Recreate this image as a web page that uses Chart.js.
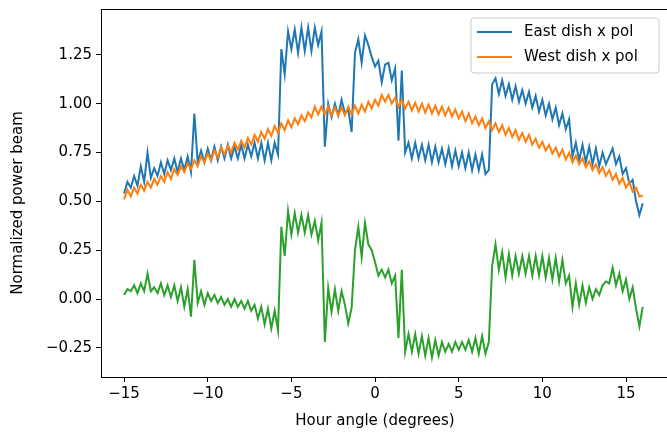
<!DOCTYPE html>
<html><head><meta charset="utf-8">
<script src="https://cdn.jsdelivr.net/npm/chart.js@4.4.1/dist/chart.umd.min.js"></script>
<style>html,body{margin:0;padding:0;background:#fff;overflow:hidden}
#wrap{width:669px;height:432px;position:relative}</style></head>
<body><div id="wrap"><canvas id="c"></canvas></div>
<script>
const hourAngle = [
-15,-14.8,-14.6,-14.4,-14.2,-14,-13.8,-13.6,-13.4,-13.2,
-13,-12.8,-12.6,-12.4,-12.2,-12,-11.8,-11.6,-11.4,-11.2,
-11,-10.8,-10.6,-10.4,-10.2,-10,-9.8,-9.6,-9.4,-9.2,
-9,-8.8,-8.6,-8.4,-8.2,-8,-7.8,-7.6,-7.4,-7.2,
-7,-6.8,-6.6,-6.4,-6.2,-6,-5.8,-5.6,-5.4,-5.2,
-5,-4.8,-4.6,-4.4,-4.2,-4,-3.8,-3.6,-3.4,-3.2,
-3,-2.8,-2.6,-2.4,-2.2,-2,-1.8,-1.6,-1.4,-1.2,
-1,-0.8,-0.6,-0.4,-0.2,0,0.2,0.4,0.6,0.8,
1,1.2,1.4,1.6,1.8,2,2.2,2.4,2.6,2.8,
3,3.2,3.4,3.6,3.8,4,4.2,4.4,4.6,4.8,
5,5.2,5.4,5.6,5.8,6,6.2,6.4,6.6,6.8,
7,7.2,7.4,7.6,7.8,8,8.2,8.4,8.6,8.8,
9,9.2,9.4,9.6,9.8,10,10.2,10.4,10.6,10.8,
11,11.2,11.4,11.6,11.8,12,12.2,12.4,12.6,12.8,
13,13.2,13.4,13.6,13.8,14,14.2,14.4,14.6,14.8,
15,15.2,15.4,15.6,15.8,16];

const eastXpol = [
.54,.60,.57,.63,.58,.68,.60,.75,.62,.67,
.63,.70,.64,.71,.66,.72,.65,.72,.66,.73,
.65,.95,.70,.76,.70,.77,.71,.78,.71,.78,
.72,.79,.72,.78,.72,.79,.72,.79,.73,.80,
.72,.80,.71,.80,.71,.80,.74,1.28,1.15,1.37,
1.28,1.38,1.26,1.39,1.27,1.39,1.27,1.39,1.30,1.37,
.78,1.00,.93,1.00,.94,1.02,.95,.97,.855,1.26,
1.33,1.21,1.35,1.30,1.24,1.19,1.22,1.11,1.20,1.21,
1.12,1.18,.81,1.17,.75,.80,.72,.80,.72,.79,
.71,.79,.70,.78,.70,.77,.69,.77,.68,.76,
.68,.75,.67,.75,.66,.74,.66,.74,.64,.66,
1.10,1.13,1.05,1.12,1.04,1.10,1.02,1.09,1.01,1.07,
1.00,1.06,.98,1.04,.96,1.02,.94,1.00,.92,.98,
.89,.95,.87,.92,.73,.80,.71,.79,.70,.78,
.69,.77,.68,.75,.69,.73,.77,.69,.73,.64,
.67,.59,.61,.50,.43,.49];

const westXpol = [
.51,.56,.525,.57,.54,.585,.555,.60,.57,.615,
.585,.63,.60,.65,.615,.665,.635,.68,.65,.695,
.665,.71,.68,.73,.70,.745,.71,.76,.725,.775,
.74,.785,.75,.80,.765,.81,.775,.825,.79,.84,
.805,.855,.82,.87,.835,.885,.85,.90,.865,.915,
.88,.925,.895,.94,.91,.955,.93,.985,.945,.985,
.945,.985,.94,.98,.94,.98,.94,.985,.945,.99,
.95,.995,.96,1.01,.975,1.02,.99,1.045,1.01,1.045,
1.00,1.03,.985,1.02,.975,1.01,.965,1.005,.96,1.00,
.955,.995,.95,.99,.945,.985,.94,.98,.935,.97,
.925,.96,.91,.95,.90,.935,.89,.925,.875,.91,
.865,.90,.855,.89,.84,.875,.83,.865,.815,.85,
.805,.84,.79,.82,.775,.805,.76,.79,.745,.775,
.73,.765,.715,.75,.70,.735,.69,.72,.675,.705,
.66,.69,.645,.675,.63,.66,.61,.64,.59,.62,
.57,.60,.55,.57,.525,.53];

const diffXpol = [
.02,.05,.04,.07,.03,.08,.04,.13,.04,.06,
.03,.08,.02,.07,.01,.07,-.01,.06,-.04,.05,
-.09,.20,-.02,.04,-.03,.03,-.01,.02,-.02,.01,
-.03,.00,-.04,.00,-.04,-.01,-.05,-.01,-.06,-.03,
-.10,-.04,-.13,-.05,-.15,-.06,-.16,.37,.22,.45,
.33,.44,.34,.43,.34,.43,.33,.40,.30,.39,
-.22,.056,-.065,.05,-.06,.04,-.03,-.125,-.045,.25,
.37,.215,.39,.28,.25,.19,.12,.15,.11,.15,
.08,.12,-.20,.15,-.27,-.18,-.27,-.18,-.28,-.19,
-.29,-.20,-.30,-.21,-.29,-.22,-.27,-.23,-.27,-.22,
-.26,-.22,-.26,-.21,-.27,-.20,-.28,-.19,-.28,-.22,
.17,.28,.15,.24,.11,.23,.12,.22,.13,.22,
.13,.22,.12,.22,.12,.22,.11,.21,.10,.21,
.09,.20,.08,.12,-.04,.08,-.03,.07,-.02,.06,
.00,.05,.02,.07,.09,.08,.16,.07,.13,.04,
.10,.00,.06,-.05,-.14,-.04];

const xTickValues = [-15,-10,-5,0,5,10,15];
const yTickValues = [-0.25,0,0.25,0.5,0.75,1,1.25];
const legendNames = ['East dish x pol','West dish x pol'];
const xTitle = 'Hour angle (degrees)';
const yTitle = 'Normalized power beam';

const COLORS = ['#1f77b4','#ff7f0e','#2ca02c'];
const FONT = 'DejaVu Sans';
const FS = 15;

function pts(arr){ return hourAngle.map((x,i)=>({x:x,y:arr[i]})); }
function minusSign(s){ return s.replace('-', '\u2212'); }

const framePlugin = {
  id:'frame',
  afterDraw(chart){
    const {ctx, chartArea:a} = chart;
    ctx.save();
    ctx.strokeStyle = '#000'; ctx.lineWidth = 1;
    ctx.beginPath();
    ctx.moveTo(a.left, a.top+0.5); ctx.lineTo(a.right, a.top+0.5);
    ctx.moveTo(a.right-0.5, a.top); ctx.lineTo(a.right-0.5, a.bottom);
    ctx.stroke();
    // axis titles
    ctx.fillStyle='#000';
    ctx.font = FS+'px "'+FONT+'"';
    ctx.textAlign='center'; ctx.textBaseline='middle';
    ctx.fillText(xTitle, 375, 421);
    ctx.save(); ctx.translate(18, 203); ctx.rotate(-Math.PI/2);
    ctx.fillText(yTitle, 0, 0); ctx.restore();
    // legend
    const bx=471, by=18, bw=188, bh=55, r=3;
    ctx.beginPath();
    ctx.moveTo(bx+r,by); ctx.lineTo(bx+bw-r,by); ctx.quadraticCurveTo(bx+bw,by,bx+bw,by+r);
    ctx.lineTo(bx+bw,by+bh-r); ctx.quadraticCurveTo(bx+bw,by+bh,bx+bw-r,by+bh);
    ctx.lineTo(bx+r,by+bh); ctx.quadraticCurveTo(bx,by+bh,bx,by+bh-r);
    ctx.lineTo(bx,by+r); ctx.quadraticCurveTo(bx,by,bx+r,by);
    ctx.closePath();
    ctx.fillStyle='rgba(255,255,255,0.8)'; ctx.fill();
    ctx.strokeStyle='#cccccc'; ctx.lineWidth=1; ctx.stroke();
    const rows=[32,57];
    ctx.textBaseline='middle'; ctx.textAlign='left';
    legendNames.forEach((n,i)=>{
      ctx.strokeStyle=COLORS[i]; ctx.lineWidth=2;
      ctx.beginPath(); ctx.moveTo(477,rows[i]); ctx.lineTo(512,rows[i]); ctx.stroke();
      ctx.fillStyle='#000'; ctx.fillText(n,524,rows[i]);
    });
    ctx.restore();
  }
};

Chart.defaults.font.family = FONT;
Chart.defaults.font.size = FS;
Chart.defaults.color = '#000';

new Chart(document.getElementById('c'), {
  type:'line',
  data:{datasets:[
    {label:legendNames[0], data:pts(eastXpol), borderColor:COLORS[0], borderWidth:2, pointRadius:0, tension:0, fill:false, order:2},
    {label:legendNames[1], data:pts(westXpol), borderColor:COLORS[1], borderWidth:2, pointRadius:0, tension:0, fill:false, order:1},
    {label:'difference', data:pts(diffXpol), borderColor:COLORS[2], borderWidth:2, pointRadius:0, tension:0, fill:false, order:0}
  ]},
  options:{
    responsive:true, maintainAspectRatio:false, animation:false, devicePixelRatio:1,
    layout:{padding:{top:9,left:0,right:0,bottom:0}},
    plugins:{legend:{display:false}, tooltip:{enabled:false}},
    scales:{
      x:{type:'linear', min:-16.38, max:17.57,
        afterFit(s){ s.height = 55; s.paddingLeft = 0; s.paddingRight = 0; },
        afterBuildTicks(s){ s.ticks = xTickValues.map(v=>({value:v})); },
        ticks:{autoSkip:false, maxRotation:0, padding:3, color:'#000', font:{size:FS},
          callback:(v)=>minusSign(String(v))},
        grid:{display:true, drawOnChartArea:false, drawTicks:true, tickLength:5, tickColor:'#000', tickWidth:1},
        border:{display:true, color:'#000', width:1},
        title:{display:false}
      },
      y:{type:'linear', min:-0.3994, max:1.485,
        afterFit(s){ s.width = 101; s.paddingTop = 0; s.paddingBottom = 0; },
        afterBuildTicks(s){ s.ticks = yTickValues.map(v=>({value:v})); },
        ticks:{autoSkip:false, padding:4, color:'#000', font:{size:FS},
          callback:(v)=>minusSign(Number(v).toFixed(2))},
        grid:{display:true, drawOnChartArea:false, drawTicks:true, tickLength:5, tickColor:'#000', tickWidth:1},
        border:{display:true, color:'#000', width:1},
        title:{display:false}
      }
    }
  },
  plugins:[framePlugin]
});
</script></body></html>
